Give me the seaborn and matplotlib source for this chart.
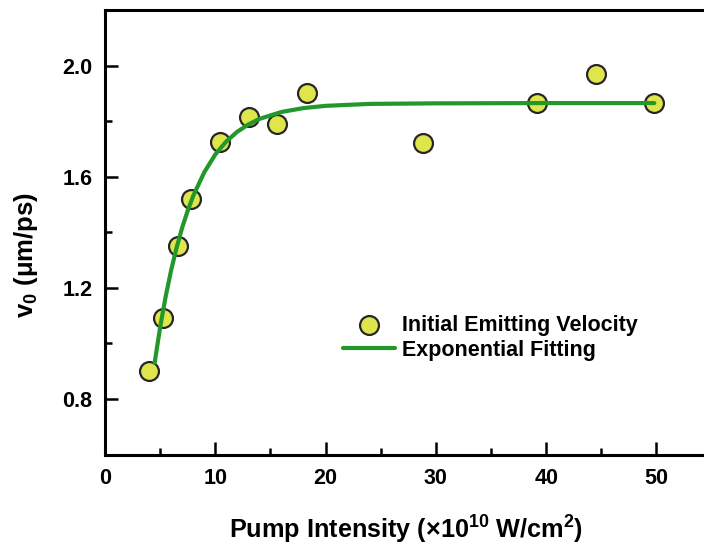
import matplotlib
matplotlib.use("Agg")
import matplotlib.pyplot as plt
import seaborn as sns
import pandas as pd

intensity = [3.98, 5.22, 6.58, 7.78, 10.41, 13.06, 15.63, 18.31, 28.79, 39.18, 44.55, 49.8]
velocity = [0.90, 1.09, 1.35, 1.52, 1.725, 1.815, 1.79, 1.90, 1.72, 1.865, 1.97, 1.865]

# Fitted curve, points
fit_x = [4.5, 5.0, 5.5, 6.0, 6.5, 7.0, 7.5, 8.0, 9.0, 10.0, 11.0, 12.0, 13.0, 14.0,
         16.0, 18.0, 20.0, 24.0, 30.0, 40.0, 49.8]
fit_y = [0.93, 1.058, 1.169, 1.264, 1.346, 1.417, 1.478, 1.531, 1.616, 1.680, 1.727,
         1.762, 1.788, 1.808, 1.833, 1.847, 1.855, 1.862, 1.864, 1.865, 1.865]

x_ticks = [0, 10, 20, 30, 40, 50]
y_ticks = [0.8, 1.2, 1.6, 2.0]

sns.set_style("ticks")
plt.rcParams["font.family"] = ["Liberation Sans", "DejaVu Sans"]
plt.rcParams["font.weight"] = "bold"
plt.rcParams["text.color"] = "black"
plt.rcParams["axes.labelcolor"] = "black"
plt.rcParams["xtick.color"] = "black"
plt.rcParams["ytick.color"] = "black"
plt.rcParams["mathtext.fontset"] = "custom"
plt.rcParams["mathtext.rm"] = "Liberation Sans:bold"
plt.rcParams["mathtext.bf"] = "Liberation Sans:bold"
plt.rcParams["mathtext.default"] = "rm"

pts = pd.DataFrame({"x": intensity, "y": velocity})
fit = pd.DataFrame({"x": fit_x, "y": fit_y})

fig = plt.figure(figsize=(7.04, 5.45), dpi=100)
W, H = 704, 545
left_px, bottom_px, top_px = 105, 454.5, 10
px_per_unit = 11.03
xmax = 55
ax = fig.add_axes([left_px / W, 1 - bottom_px / H, xmax * px_per_unit / W, (bottom_px - top_px) / H])

sns.scatterplot(data=pts, x="x", y="y", ax=ax, s=185, color="#dfe64c",
                edgecolor="#262626", linewidth=1.6, zorder=2,
                label="Initial Emitting Velocity")
sns.lineplot(data=fit, x="x", y="y", ax=ax, sort=False, estimator=None,
             color="#23982a", linewidth=3.0, zorder=3, label="Exponential Fitting")

ax.set_xlim(0, xmax)
ax.set_ylim(0.6, 2.2)
ax.set_xticks(x_ticks)
ax.set_yticks(y_ticks)
ax.set_xticks([5, 15, 25, 35, 45], minor=True)
ax.set_yticks([1.0, 1.4, 1.8], minor=True)
ax.set_xticklabels([str(v) for v in x_ticks])
ax.set_yticklabels([f"{v:.1f}" for v in y_ticks])

for s in ax.spines.values():
    s.set_linewidth(2.2)
    s.set_color("black")
ax.tick_params(axis="both", which="major", direction="in", length=9.5, width=1.8,
               labelsize=15.5, pad=10, colors="black")
ax.tick_params(axis="both", which="minor", direction="in", length=4.7, width=1.8)
ax.tick_params(axis="y", which="major", pad=9)
ax.tick_params(top=False, right=False, which="both")

ax.set_xlabel(r"Pump Intensity (×10$^{10}$ W/cm$^{2}$)", fontsize=18.2, fontweight="bold")
ax.set_ylabel(r"v$_{0}$ (μm/ps)", fontsize=18.5, fontweight="bold")
ax.xaxis.set_label_coords(0.496, -0.134)
ax.yaxis.set_label_coords(-0.107, 0.45)

leg = ax.legend(loc="upper left", bbox_to_anchor=(343 / W, 1 - 315 / H),
                bbox_transform=fig.transFigure, frameon=False, fontsize=15.5,
                handlelength=2.42, handletextpad=0.33, labelspacing=0.17,
                borderpad=0, borderaxespad=0)
for t in leg.get_texts():
    t.set_fontweight("bold")

fig.savefig("out.png", dpi=100)
